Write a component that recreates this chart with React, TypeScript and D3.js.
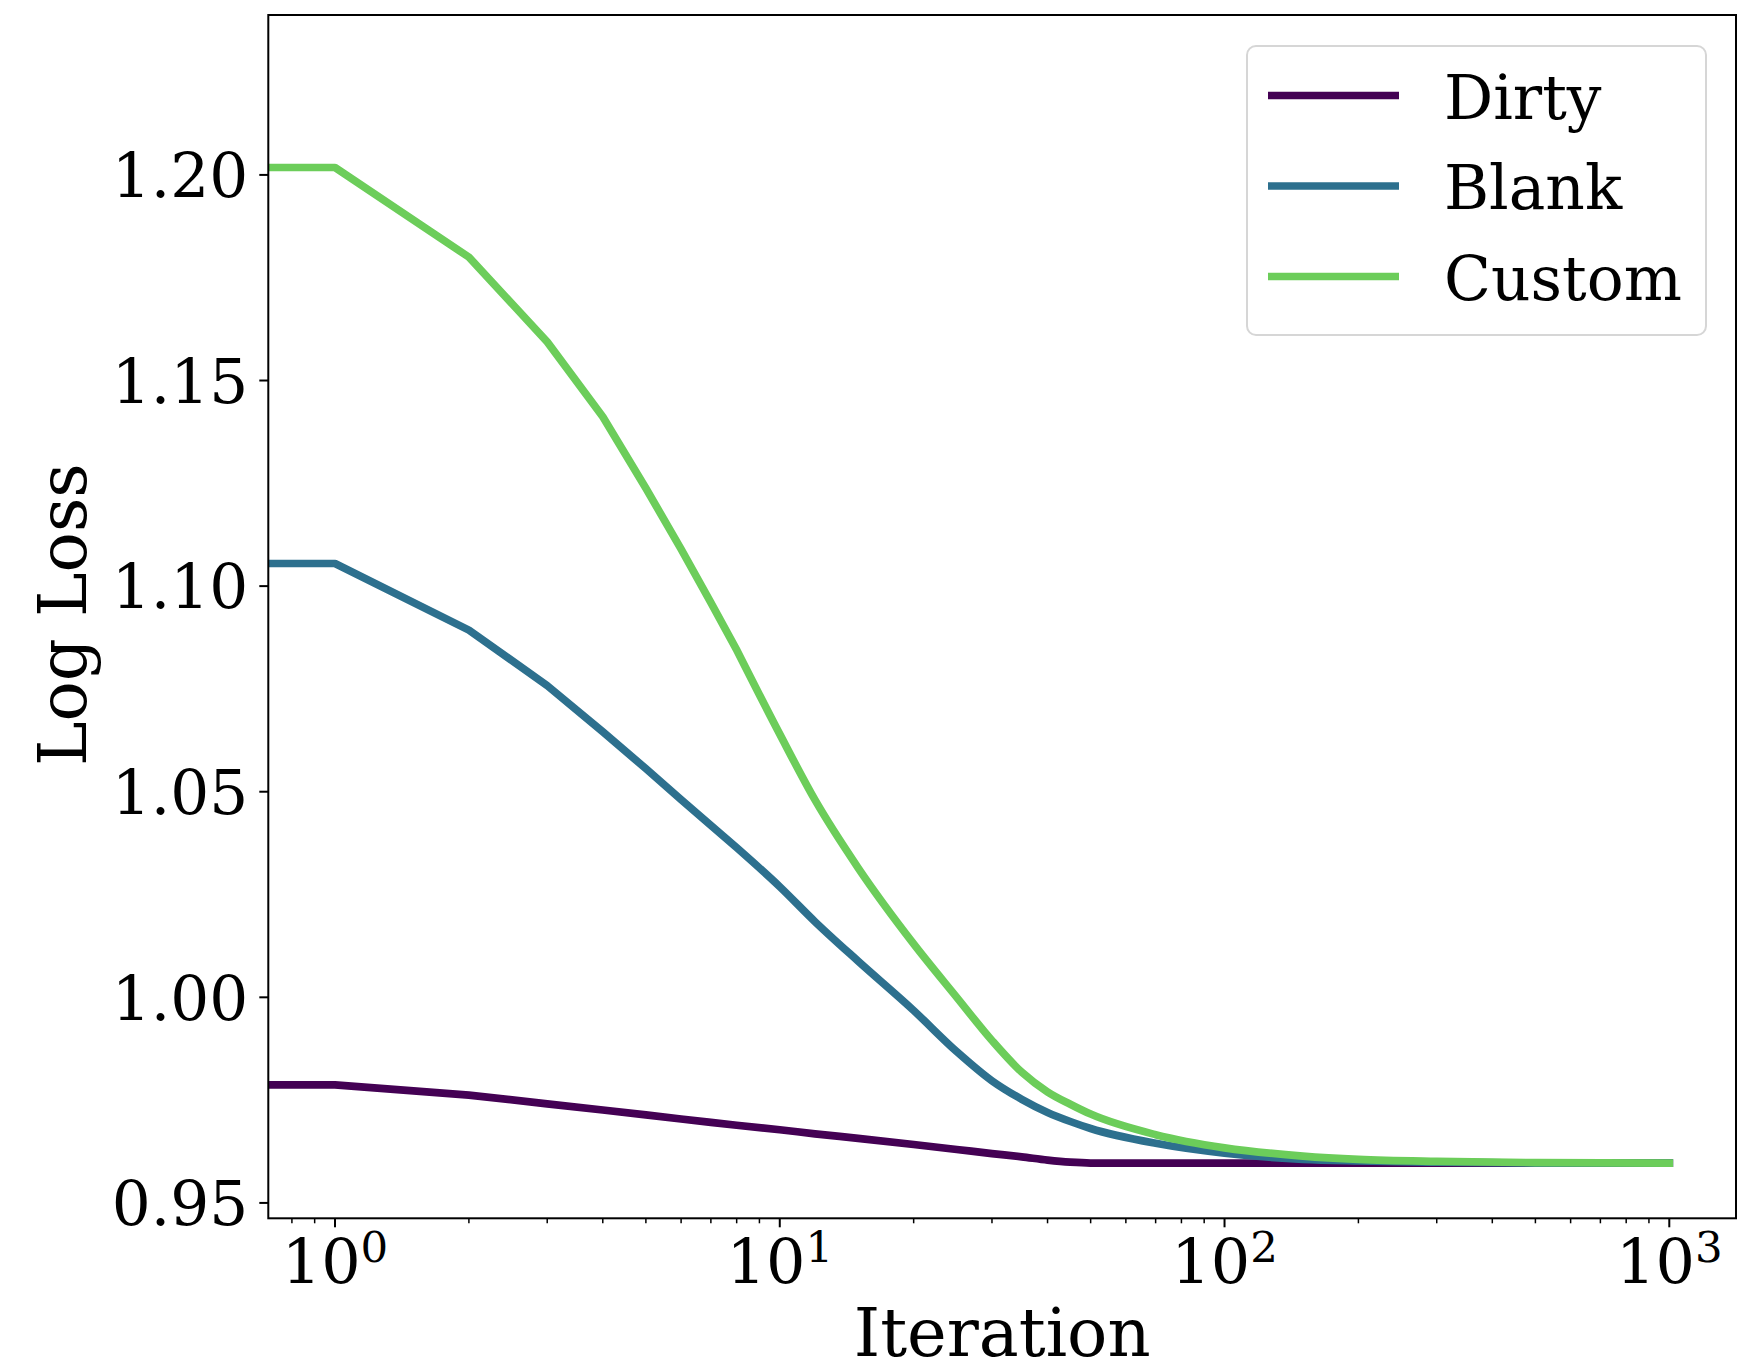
import React from "react";
import * as d3 from "d3";

const iterations = [1, 2, 3, 4, 5, 6, 7, 8, 10, 12, 15, 20, 25, 30, 35, 40, 45, 50, 70, 100, 150, 200, 300, 500, 1000];
const dirty = [0.9787, 0.9762, 0.9741, 0.9726, 0.9714, 0.9704, 0.9696, 0.9689, 0.9678, 0.9668, 0.9657, 0.9642, 0.9630, 0.9620, 0.9612, 0.9604, 0.9599, 0.9597, 0.9597, 0.9597, 0.9597, 0.9597, 0.9597, 0.9597, 0.9597];
const blank = [1.1055, 1.0893, 1.0758, 1.0646, 1.0556, 1.0481, 1.0418, 1.0364, 1.0269, 1.0184, 1.0088, 0.9968, 0.9868, 0.9797, 0.9752, 0.9720, 0.9698, 0.9681, 0.9645, 0.9621, 0.9606, 0.9602, 0.9599, 0.9597, 0.9597];
const custom = [1.2018, 1.1800, 1.1594, 1.1412, 1.1238, 1.1090, 1.0960, 1.0845, 1.0640, 1.0480, 1.0315, 1.0130, 1.0000, 0.9895, 0.9818, 0.9770, 0.9740, 0.9716, 0.9666, 0.9634, 0.9614, 0.9606, 0.9601, 0.9598, 0.9597];

const seriesNames = ["Dirty", "Blank", "Custom"];
const seriesColors = ["#440154", "#2d708e", "#6ccd5a"];
const seriesValues = [dirty, blank, custom];

const yTicks = [0.95, 1.0, 1.05, 1.1, 1.15, 1.2];
const xMajorTicks = [1, 10, 100, 1000];
const xMajorExponents = ["0", "1", "2", "3"];
const xDomain = [Math.pow(10, -0.15), Math.pow(10, 3.15)];
const yDomain = [0.94626, 1.23889];

const W = 1737;
const H = 1372;
const L = 268.3;
const R = 1736;
const T = 15;
const B = 1218.3;
const SMOOTH_FROM = 8;

const FONT = "'DejaVu Serif', serif";

export default function App() {
  const x = d3.scaleLog().domain(xDomain).range([L, R]);
  const y = d3.scaleLinear().domain(yDomain).range([B, T]);

  const straight = d3
    .line<[number, number]>()
    .x((d) => x(d[0]))
    .y((d) => y(d[1]))
    .curve(d3.curveLinear);
  const smooth = d3
    .line<[number, number]>()
    .x((d) => x(d[0]))
    .y((d) => y(d[1]))
    .curve(d3.curveMonotoneX);

  const minorTicks: number[] = [];
  for (let e = -1; e <= 3; e++) {
    for (let m = 2; m <= 9; m++) {
      const v = m * Math.pow(10, e);
      if (v >= xDomain[0] && v <= xDomain[1]) minorTicks.push(v);
    }
  }

  return (
    <svg
      width={W}
      height={H}
      style={{ position: "absolute", left: 0, top: 0, background: "#fff" }}
      fontFamily={FONT}
    >
      <rect x={0} y={0} width={W} height={H} fill="#fff" />
      <defs>
        <clipPath id="plotClip">
          <rect x={L} y={T} width={R - L} height={B - T} />
        </clipPath>
      </defs>

      <g clipPath="url(#plotClip)">
        {seriesValues.map((vals, i) => {
          const early: [number, number][] = [[xDomain[0] * 0.5, vals[0]]];
          const late: [number, number][] = [];
          iterations.forEach((it, j) => {
            if (it <= SMOOTH_FROM) early.push([it, vals[j]]);
            if (it >= SMOOTH_FROM) late.push([it, vals[j]]);
          });
          const d = (straight(early) || "") + (smooth(late) || "").replace(/^M/, "L");
          return (
            <path
              key={seriesNames[i]}
              d={d}
              fill="none"
              stroke={seriesColors[i]}
              strokeWidth={7.7}
              strokeLinejoin="round"
              strokeLinecap="square"
            />
          );
        })}
      </g>

      {/* spines */}
      <rect x={L} y={T} width={R - L} height={B - T} fill="none" stroke="#000" strokeWidth={2} />

      {/* y ticks */}
      {yTicks.map((t) => (
        <g key={t}>
          <line x1={L - 9} x2={L} y1={y(t)} y2={y(t)} stroke="#000" strokeWidth={2} />
          <text x={L - 20} y={y(t) + 22.3} textAnchor="end" fontSize={61.3} fill="#000">
            {t.toFixed(2)}
          </text>
        </g>
      ))}

      {/* x minor ticks */}
      {minorTicks.map((t) => (
        <line key={"m" + t} x1={x(t)} x2={x(t)} y1={B} y2={B + 5} stroke="#000" strokeWidth={1.5} />
      ))}

      {/* x major ticks */}
      {xMajorTicks.map((t, i) => (
        <g key={"M" + t}>
          <line x1={x(t)} x2={x(t)} y1={B} y2={B + 9} stroke="#000" strokeWidth={2} />
          <text x={x(t)} y={1283} textAnchor="middle" fontSize={62} fill="#000">
            10
            <tspan dy={-21} fontSize={43.5}>
              {xMajorExponents[i]}
            </tspan>
          </text>
        </g>
      ))}

      {/* axis labels */}
      <text x={(L + R) / 2} y={1356} textAnchor="middle" fontSize={67} fill="#000">
        Iteration
      </text>
      <text
        transform={`translate(86, ${(T + B) / 2 - 2}) rotate(-90)`}
        textAnchor="middle"
        fontSize={67}
        fill="#000"
      >
        Log Loss
      </text>

      {/* legend */}
      <rect x={1247} y={46} width={459} height={289} rx={9} ry={9} fill="#fff" fillOpacity={0.8} stroke="#d6d6d6" strokeWidth={2} />
      {seriesNames.map((name, i) => {
        const ly = 95.5 + i * 90.5;
        return (
          <g key={"leg" + name}>
            <line x1={1268} x2={1399} y1={ly} y2={ly} stroke={seriesColors[i]} strokeWidth={7.7} />
            <text x={1444} y={ly + 23} fontSize={61.4} fill="#000">
              {name}
            </text>
          </g>
        );
      })}
    </svg>
  );
}
